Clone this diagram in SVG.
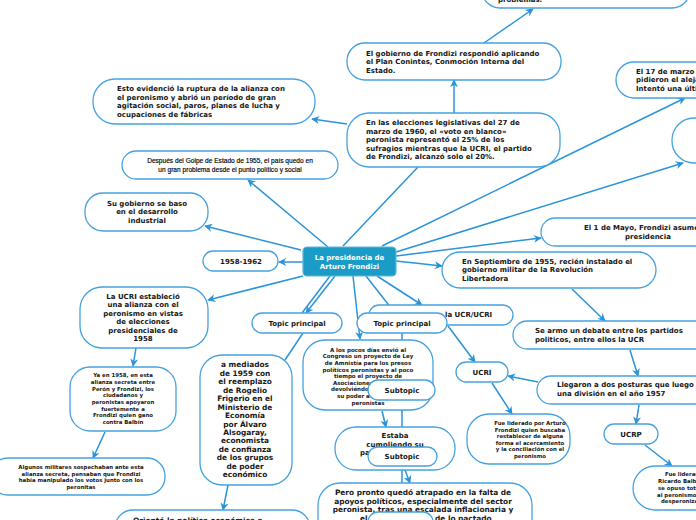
<svg xmlns="http://www.w3.org/2000/svg" width="696" height="520" viewBox="0 0 696 520">
<defs>
<marker id="ah" viewBox="0 0 10 10" refX="9" refY="5" markerWidth="8" markerHeight="8" markerUnits="userSpaceOnUse" orient="auto">
<path d="M0,0 L10,5 L0,10 L3,5 z" fill="#2a94d8"/>
</marker>
<style>
.n{fill:#fff;stroke:#45a2e0;stroke-width:1.3}
.c{fill:none;stroke:#2a94d8;stroke-width:1.5}
.a{marker-end:url(#ah)}
.t{font-family:"DejaVu Sans",Verdana,sans-serif;font-weight:bold;fill:#161616;font-size:7px}
.m{text-anchor:middle}
.s{font-size:5.5px}
.xs{font-size:5.4px}
.l{font-family:"Liberation Sans",Arial,sans-serif;font-weight:normal;font-size:6.6px;fill:#000;stroke:#000;stroke-width:0.15}
.b{font-size:7.4px}
.w{fill:#fff}
</style>
</defs>
<rect width="696" height="520" fill="#fff"/>
<g id="connectors">
<line class="c a" x1="454" y1="113" x2="454" y2="80"/>
<line class="c a" x1="484" y1="43" x2="533" y2="9"/>
<line class="c a" x1="382" y1="246" x2="685" y2="98"/>
<line class="c a" x1="396" y1="252" x2="683" y2="163"/>
<line class="c a" x1="347" y1="124" x2="312" y2="119"/>
<line class="c a" x1="328" y1="247" x2="248" y2="180"/>
<line class="c a" x1="301" y1="250" x2="205" y2="226"/>
<line class="c a" x1="303" y1="262" x2="279" y2="262"/>
<line class="c a" x1="396" y1="256" x2="541" y2="238"/>
<line class="c a" x1="396" y1="261" x2="442" y2="266"/>
<line class="c a" x1="303" y1="276" x2="208" y2="300"/>
<line class="c a" x1="136" y1="348" x2="133" y2="366"/>
<line class="c a" x1="105" y1="432" x2="93" y2="458"/>
<line class="c a" x1="335" y1="276" x2="306" y2="313"/>
<line class="c" x1="330" y1="276" x2="302" y2="313"/>
<line class="c" x1="303" y1="333" x2="285" y2="360"/>
<line class="c a" x1="353" y1="276" x2="360" y2="339"/>
<line class="c" x1="366" y1="276" x2="395" y2="313"/>
<line class="c a" x1="377" y1="276" x2="422" y2="305"/>
<line class="c a" x1="448" y1="326" x2="475" y2="362"/>
<line class="c a" x1="492" y1="383" x2="512" y2="414"/>
<line class="c a" x1="572" y1="289" x2="605" y2="321"/>
<line class="c a" x1="630" y1="350" x2="638" y2="376"/>
<line class="c a" x1="538" y1="382" x2="508" y2="376"/>
<line class="c a" x1="639" y1="405" x2="636" y2="424"/>
<line class="c a" x1="645" y1="445" x2="672" y2="466"/>
<line class="c a" x1="382" y1="411" x2="386" y2="427"/>
<line class="c a" x1="405" y1="470" x2="410" y2="483"/>
<line class="c a" x1="228" y1="485" x2="223" y2="510"/>
<line class="c" x1="402" y1="333" x2="402" y2="512"/>
<line class="c" x1="343" y1="246" x2="418" y2="167"/>
</g>
<g id="n-top">
<rect class="n" x="482" y="-30" width="208" height="38" rx="18"/>
<text class="t" x="498" y="2">problemas.</text>
</g>
<g id="n-gobierno">
<rect class="n" x="347" y="43" width="214" height="37" rx="18"/>
<text class="t" x="366" y="55.5">El gobierno de Frondizi respondió aplicando</text>
<text class="t" x="366" y="64">el Plan Conintes, Conmoción Interna del</text>
<text class="t" x="366" y="72.5">Estado.</text>
</g>
<g id="n-marzo">
<rect class="n" x="616" y="62" width="120" height="36" rx="18"/>
<text class="t" x="636" y="73.5">El 17 de marzo</text>
<text class="t" x="636" y="82">pidieron el alejam</text>
<text class="t" x="636" y="90.5">Intentó una últim</text>
</g>
<g id="n-circle">
<rect class="n" x="672" y="118" width="80" height="45" rx="22"/>
</g>
<g id="n-ruptura">
<rect class="n" x="93" y="79" width="222" height="45" rx="22"/>
<text class="t" x="117" y="91.3">Esto evidenció la ruptura de la alianza con</text>
<text class="t" x="117" y="99.7">el peronismo y abrió un período de gran</text>
<text class="t" x="117" y="108">agitación social, paros, planes de lucha y</text>
<text class="t" x="117" y="116.5">ocupaciones de fábricas</text>
</g>
<g id="n-golpe">
<rect class="n" x="122" y="151" width="216" height="28" rx="14"/>
<text class="t l m" x="230" y="163.3">Después del Golpe de Estado de 1955, el país quedo en</text>
<text class="t l m" x="230" y="171.5">un gran problema desde el punto político y social</text>
</g>
<g id="n-elecciones">
<rect class="n" x="347" y="113" width="213" height="54" rx="22"/>
<text class="t" x="366" y="125.3">En las elecciones legislativas del 27 de</text>
<text class="t" x="366" y="133.7">marzo de 1960, el «voto en blanco»</text>
<text class="t" x="366" y="142">peronista representó el 25% de los</text>
<text class="t" x="366" y="150.5">sufragios mientras que la UCRI, el partido</text>
<text class="t" x="366" y="159">de Frondizi, alcanzó solo el 20%.</text>
</g>
<g id="n-industrial">
<rect class="n" x="85" y="193" width="123" height="38" rx="18"/>
<text class="t m" x="147" y="206">Su gobierno se baso</text>
<text class="t m" x="147" y="214.3">en el desarrollo</text>
<text class="t m" x="147" y="222.6">industrial</text>
</g>
<g id="n-years">
<rect class="n" x="203" y="251" width="75" height="20" rx="10"/>
<text class="t m" x="241" y="263.5">1958-1962</text>
</g>
<g id="n-center">
<rect x="303" y="247" width="93" height="29" rx="4" fill="#1b9cc6" stroke="#5ab8dc" stroke-width="1.2"/>
<text class="t m w" x="349.5" y="260">La presidencia de</text>
<text class="t m w" x="349.5" y="268.5">Arturo Frondizi</text>
</g>
<g id="n-mayo">
<rect class="n" x="541" y="218" width="214" height="28" rx="14"/>
<text class="t" x="584" y="230">El 1 de Mayo, Frondizi asume</text>
<text class="t m" x="648" y="239">presidencia</text>
</g>
<g id="n-septiembre">
<rect class="n" x="442" y="252" width="214" height="36" rx="18"/>
<text class="t" x="462" y="264">En Septiembre de 1955, recién instalado el</text>
<text class="t" x="462" y="272.3">gobierno militar de la Revolución</text>
<text class="t" x="462" y="280.7">Libertadora</text>
</g>
<g id="n-ucrucri">
<rect class="n" x="369" y="305" width="144" height="20" rx="10"/>
<text class="t" x="445" y="317.3">la UCR/UCRI</text>
</g>
<g id="n-topic1">
<rect class="n" x="252" y="313" width="90" height="20" rx="10"/>
<text class="t m" x="297" y="325.7">Topic principal</text>
</g>
<g id="n-topic2">
<rect class="n" x="357" y="313" width="90" height="20" rx="10"/>
<text class="t m" x="402" y="325.7">Topic principal</text>
</g>
<g id="n-amnistia">
<rect class="n" x="303" y="340" width="130" height="70" rx="22"/>
<text class="t s m" x="368" y="351.7">A los pocos días envió al</text>
<text class="t s m" x="368" y="358.3">Congreso un proyecto de Ley</text>
<text class="t s m" x="368" y="364.9">de Amnistía para los presos</text>
<text class="t s m" x="368" y="371.5">políticos peronistas y al poco</text>
<text class="t s m" x="368" y="378.1">tiempo el proyecto de</text>
<text class="t s" x="333" y="384.7">Asociaciones Pr</text>
<text class="t s" x="331" y="391.3">devolviéndoles</text>
<text class="t s" x="337" y="397.9">su poder a l</text>
<text class="t s m" x="368" y="404.5">peronistas</text>
</g>
<g id="n-sub1">
<rect class="n" x="368" y="380" width="67" height="20" rx="10"/>
<text class="t m" x="402" y="392.7">Subtopic</text>
</g>
<g id="n-estaba">
<rect class="n" x="335" y="427" width="120" height="43" rx="21"/>
<text class="t m" x="395" y="438.3">Estaba</text>
<text class="t m" x="395" y="446.7">cumpliendo su</text>
<text class="t" x="360" y="455">pa</text>
</g>
<g id="n-sub2">
<rect class="n" x="368" y="447" width="69" height="19" rx="9.5"/>
<text class="t m" x="402" y="459">Subtopic</text>
</g>
<g id="n-pero">
<rect class="n" x="318" y="483" width="214" height="60" rx="22"/>
<text class="t b m" x="423" y="495">Pero pronto quedó atrapado en la falta de</text>
<text class="t b m" x="423" y="503.5">apoyos políticos, especialmente del sector</text>
<text class="t b m" x="423" y="512">peronista, tras una escalada inflacionaria y</text>
<text class="t b" x="360" y="520.5">el</text>
<text class="t b" x="435" y="520.5">de lo pactado</text>
</g>
<g id="n-sub3">
<rect class="n" x="368" y="512" width="65" height="20" rx="10"/>
</g>
<g id="n-ucri">
<rect class="n" x="456" y="362" width="52" height="20" rx="10"/>
<text class="t m" x="482" y="374.5">UCRI</text>
</g>
<g id="n-debate">
<rect class="n" x="513" y="321" width="230" height="28" rx="14"/>
<text class="t" x="535" y="332.7">Se armo un debate entre los partidos</text>
<text class="t" x="535" y="341.5">politicos, entre ellos la UCR</text>
</g>
<g id="n-posturas">
<rect class="n" x="537" y="376" width="200" height="28" rx="14"/>
<text class="t" x="557" y="387.3">Llegaron a dos posturas que luego s</text>
<text class="t" x="557" y="396">una división en el año 1957</text>
</g>
<g id="n-ucrp">
<rect class="n" x="604" y="424" width="54" height="20" rx="10"/>
<text class="t m" x="631" y="436.7">UCRP</text>
</g>
<g id="n-balbin">
<rect class="n" x="633" y="466" width="120" height="44" rx="22"/>
<text class="t xs" x="665" y="476">Fue liderad</text>
<text class="t xs" x="658" y="483">Ricardo Balbí</text>
<text class="t xs" x="658" y="489.8">se opuso tota</text>
<text class="t xs" x="657" y="496.6">al peronismo</text>
<text class="t xs" x="661" y="503">desperoniza</text>
</g>
<g id="n-frondizi-ucri">
<rect class="n" x="467" y="414" width="103" height="50" rx="22"/>
<text class="t xs m" x="530" y="425">Fue liderado por Arturo</text>
<text class="t xs m" x="530" y="431.6">Frondizi quien buscaba</text>
<text class="t xs m" x="530" y="438">restablecer de alguna</text>
<text class="t xs m" x="530" y="444.5">forma el acercamiento</text>
<text class="t xs m" x="530" y="451">y la conciliación con el</text>
<text class="t xs m" x="530" y="457.5">peronismo</text>
</g>
<g id="n-alianza">
<rect class="n" x="80" y="287" width="128" height="61" rx="22"/>
<text class="t m" x="143" y="299">La UCRI estableció</text>
<text class="t m" x="143" y="307.3">una alianza con el</text>
<text class="t m" x="143" y="315.7">peronismo en vistas</text>
<text class="t m" x="143" y="324.2">de elecciones</text>
<text class="t m" x="143" y="332.6">presidenciales de</text>
<text class="t m" x="143" y="341">1958</text>
</g>
<g id="n-ya1958">
<rect class="n" x="70" y="367" width="106" height="64" rx="20"/>
<text class="t xs m" x="123" y="377.3">Ya en 1958, en esta</text>
<text class="t xs m" x="123" y="384">alianza secreta entre</text>
<text class="t xs m" x="123" y="390.7">Perón y Frondizi, los</text>
<text class="t xs m" x="123" y="397.3">ciudadanos y</text>
<text class="t xs m" x="123" y="404">peronistas apoyaron</text>
<text class="t xs m" x="123" y="410.7">fuertemente a</text>
<text class="t xs m" x="123" y="417.3">Frondizi quien gano</text>
<text class="t xs m" x="123" y="424">contra Balbín</text>
</g>
<g id="n-militares">
<rect class="n" x="-10" y="458" width="175" height="37" rx="18"/>
<text class="t xs m" x="81" y="469">Algunos militares sospechaban ante esta</text>
<text class="t xs m" x="81" y="475.7">alianza secreta, pensaban que Frondizi</text>
<text class="t xs m" x="81" y="482.2">había manipulado los votos junto con los</text>
<text class="t xs m" x="81" y="488.8">peronitas</text>
</g>
<g id="n-mediados">
<rect class="n" x="200" y="355" width="92" height="130" rx="22"/>
<text class="t b m" x="245" y="367.3">a mediados</text>
<text class="t b m" x="245" y="375.8">de 1959 con</text>
<text class="t b m" x="245" y="384.2">el reemplazo</text>
<text class="t b m" x="245" y="392.7">de Rogelio</text>
<text class="t b m" x="245" y="401.1">Frigerio en el</text>
<text class="t b m" x="245" y="409.6">Ministerio de</text>
<text class="t b m" x="245" y="418">Economía</text>
<text class="t b m" x="245" y="426.5">por Álvaro</text>
<text class="t b m" x="245" y="434.9">Alsogaray,</text>
<text class="t b m" x="245" y="443.4">economista</text>
<text class="t b m" x="245" y="451.8">de confianza</text>
<text class="t b m" x="245" y="460.3">de los grupos</text>
<text class="t b m" x="245" y="468.7">de poder</text>
<text class="t b m" x="245" y="477.2">económico</text>
</g>
<g id="n-oriento">
<rect class="n" x="115" y="510" width="195" height="40" rx="18"/>
<text class="t b" x="133" y="522.5">Orientó la política económica a</text>
</g>
</svg>
